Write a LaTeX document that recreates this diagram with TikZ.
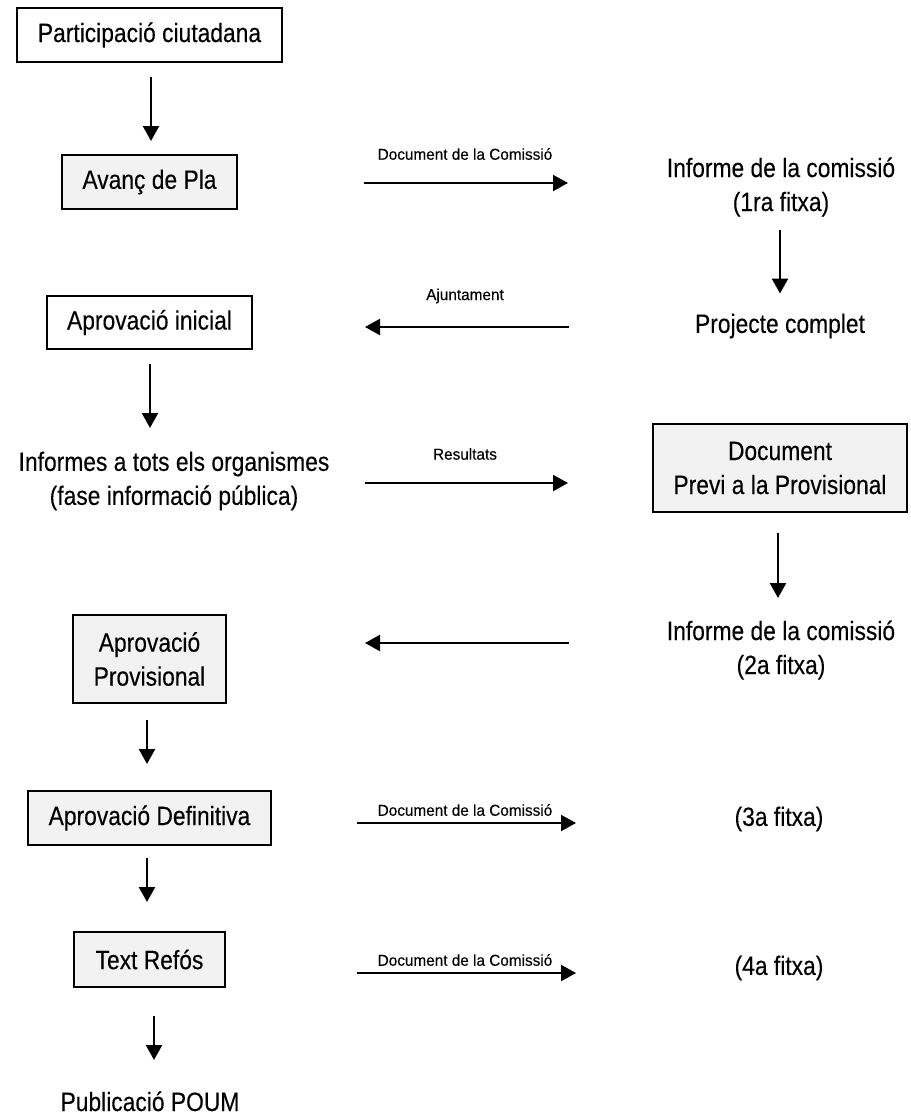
\documentclass[tikz,border=0pt]{standalone}
\usepackage{fontspec}
\setmainfont{Liberation Sans}[FakeStretch=0.86,FakeBold=0.2]
\newfontfamily\lblfont{Liberation Sans}[FakeStretch=0.97,FakeBold=0.2]
\usetikzlibrary{arrows.meta,calc}
\definecolor{boxgray}{RGB}{242,242,242}
\begin{document}
\begin{tikzpicture}[x=0.75pt,y=-0.75pt,
  every node/.style={inner sep=0pt, outer sep=0pt},
  maintext/.style={font=\fontsize{19.9}{25.5}\selectfont, align=center},
  box/.style={maintext, draw=black, line width=1.3pt, fill=white},
  graybox/.style={box, fill=boxgray},
  lbl/.style={font=\lblfont\fontsize{11.85}{14}\selectfont},
  arr/.style={line width=1.7pt, -{Triangle[length=11.25pt,width=12pt]}},
]
\useasboundingbox (0,0) rectangle (911,1115);

% left column
\node[box, minimum width=198.75pt, minimum height=40.5pt] (part) at (149.5,35) {Participació ciutadana};
\node[graybox, minimum width=131.25pt, minimum height=40.5pt] (avanc) at (149.5,182) {Avanç de Pla};
\node[box, minimum width=153.75pt, minimum height=39.75pt] (inicial) at (149.5,322.5) {Aprovació inicial};
\node[maintext] (informes) at (174,481) {Informes a tots els organismes\\(fase informació pública)};
\node[graybox, minimum width=114.75pt, minimum height=66pt] (provisional) at (149.5,659) {Aprovació\\Provisional};
\node[graybox, minimum width=182.25pt, minimum height=40.5pt] (definitiva) at (149.5,818) {Aprovació Definitiva};
\node[graybox, minimum width=113.25pt, minimum height=41.25pt] (refos) at (149.5,959.5) {Text Refós};
\node[maintext, anchor=base] (poum) at (150,1111) {Publicació POUM};

% right column
\node[maintext] (inf1) at (781,187) {Informe de la comissió\\(1ra fitxa)};
\node[maintext] (proj) at (780,326) {Projecte complet};
\node[graybox, minimum width=190.5pt, minimum height=66pt] (doc) at (780,468) {Document\\Previ a la Provisional};
\node[maintext] (inf2) at (781,650) {Informe de la comissió\\(2a fitxa)};
\node[maintext] (f3) at (779,819) {(3a fitxa)};
\node[maintext] (f4) at (779,968) {(4a fitxa)};

% arrow labels
\node[lbl] (l1) at (465,154) {Document de la Comissió};
\node[lbl] (l2) at (465,296) {Ajuntament};
\node[lbl] (l3) at (465,454) {Resultats};
\node[lbl] (l5) at (465,810) {Document de la Comissió};
\node[lbl] (l6) at (465,960) {Document de la Comissió};

% horizontal arrow ends
\coordinate (h1s) at (364,183); \coordinate (h1e) at (568,183);
\coordinate (h2s) at (569,327); \coordinate (h2e) at (365,327);
\coordinate (h3s) at (365,483); \coordinate (h3e) at (568,483);
\coordinate (h4s) at (569,643); \coordinate (h4e) at (365,643);
\coordinate (h5s) at (357,823); \coordinate (h5e) at (576,823);
\coordinate (h6s) at (357,973); \coordinate (h6e) at (576,973);

\draw[arr] (h1s) -- (h1e);
\draw[arr] (h2s) -- (h2e);
\draw[arr] (h3s) -- (h3e);
\draw[arr] (h4s) -- (h4e);
\draw[arr] (h5s) -- (h5e);
\draw[arr] (h6s) -- (h6e);

% vertical arrows
\draw[arr] ($(part.south)+(1.5,15)$) -- ++(0,64);
\draw[arr] ($(inicial.south)+(0.5,15)$) -- ++(0,64);
\draw[arr] ($(provisional.south)+(-2.5,17)$) -- ++(0,44);
\draw[arr] ($(definitiva.south)+(-2.5,13)$) -- ++(0,44);
\draw[arr] ($(refos.south)+(4.5,29)$) -- ++(0,44);
\draw[arr] ($(inf1.south)+(-1,13)$) -- ++(0,64);
\draw[arr] ($(doc.south)+(-2,21)$) -- ++(0,65);
\end{tikzpicture}
\end{document}
